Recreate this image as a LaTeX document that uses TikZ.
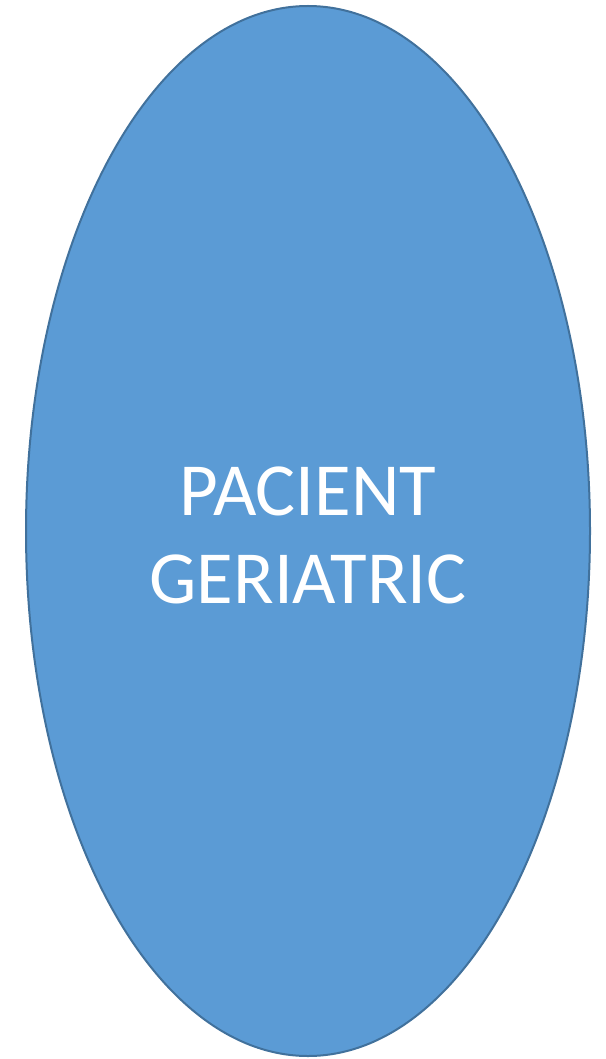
\documentclass[tikz,border=0pt]{standalone}
\usepackage{fontspec}
\setmainfont{Carlito}
\begin{document}
\begin{tikzpicture}[x=1pt,y=1pt]
\definecolor{ellfill}{HTML}{5B9BD5}
\definecolor{ellline}{HTML}{41719C}
\useasboundingbox (0,0) rectangle (605,-1059);
\draw[fill=ellfill,draw=ellline,line width=2pt] (308,-531) ellipse [x radius=282, y radius=525];
\node[text=white,align=center,font=\fontsize{75}{88}\selectfont] (t) at (308,-535) {PACIENT\\GERIATRIC};
\end{tikzpicture}
\end{document}
